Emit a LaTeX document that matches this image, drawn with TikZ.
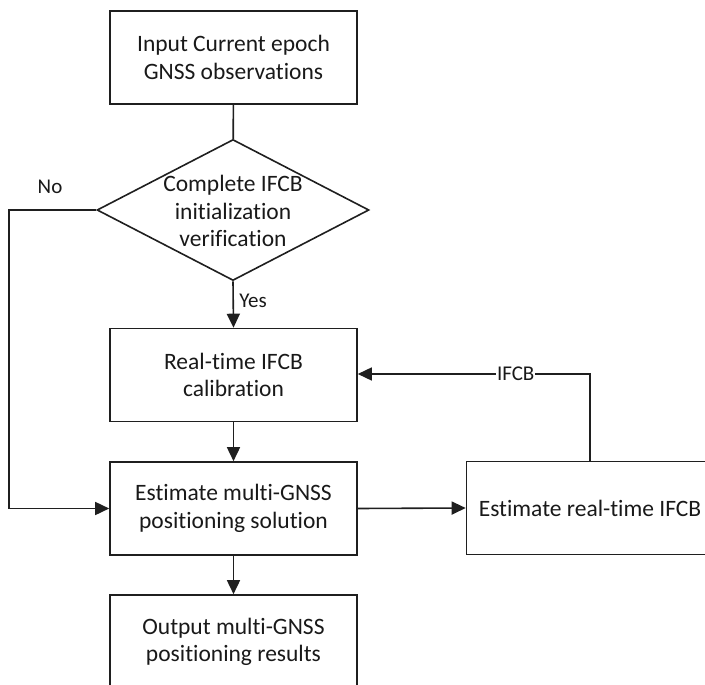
\documentclass[tikz,border=0pt]{standalone}
\usepackage{fontspec}
\setmainfont{Carlito}[Ligatures=NoCommon]
\usetikzlibrary{arrows.meta,shapes.geometric}
\begin{document}
\begin{tikzpicture}[x=1pt,y=-1pt,
  every node/.style={font=\fontsize{23.5}{27.5}\selectfont, text=black!90},
  box/.style={draw=black!88, line width=1.6pt, minimum width=247pt, minimum height=93pt, inner sep=0pt, align=center},
  conn/.style={draw=black!88, line width=1.6pt},
  arr/.style={conn, -{Triangle[length=14pt,width=13pt]}},
  lbl/.style={font=\fontsize{21}{24}\selectfont}]
\useasboundingbox (0,0) rectangle (705,685);
\node[box] (in) at (233.5,57.5) {Input Current epoch\\GNSS observations};
\node[draw=black!88, line width=1.6pt, shape=diamond, minimum width=272pt, minimum height=141pt, inner sep=0pt] (dec) at (233,210) {};
\node[align=center] (dect) at (233,211) {Complete IFCB\\initialization\\verification};
\node[box] (cal) at (233.5,375) {Real-time IFCB\\calibration};
\node[box] (est) at (233.5,508.5) {Estimate multi-GNSS\\positioning solution};
\node[box] (rt) at (590,508) {Estimate real-time IFCB};
\node[box, minimum height=94pt] (out) at (233.5,642) {Output multi-GNSS\\positioning results};
\coordinate (nl) at (9,210);
\coordinate (nb) at (9,508.5);
\coordinate (fb) at (590,374);
\draw[conn] (in) -- (dec);
\draw[arr] (dec.south) -- node[lbl, right, pos=0.43, xshift=2pt] (yes) {Yes} (cal.north);
\draw[arr] (dec.west) -- (nl) -- (nb) -- (est.west);
\node[lbl] (no) at (50,187) {No};
\draw[arr] (cal) -- (est);
\draw[arr] (est.east) -- (rt.west);
\draw[arr] (rt.north -| fb) -- (fb) -- node[lbl, fill=white, inner sep=1pt, pos=0.32] (ifcb) {IFCB} (fb -| cal.east);
\draw[arr] (est) -- (out);
\end{tikzpicture}
\end{document}
